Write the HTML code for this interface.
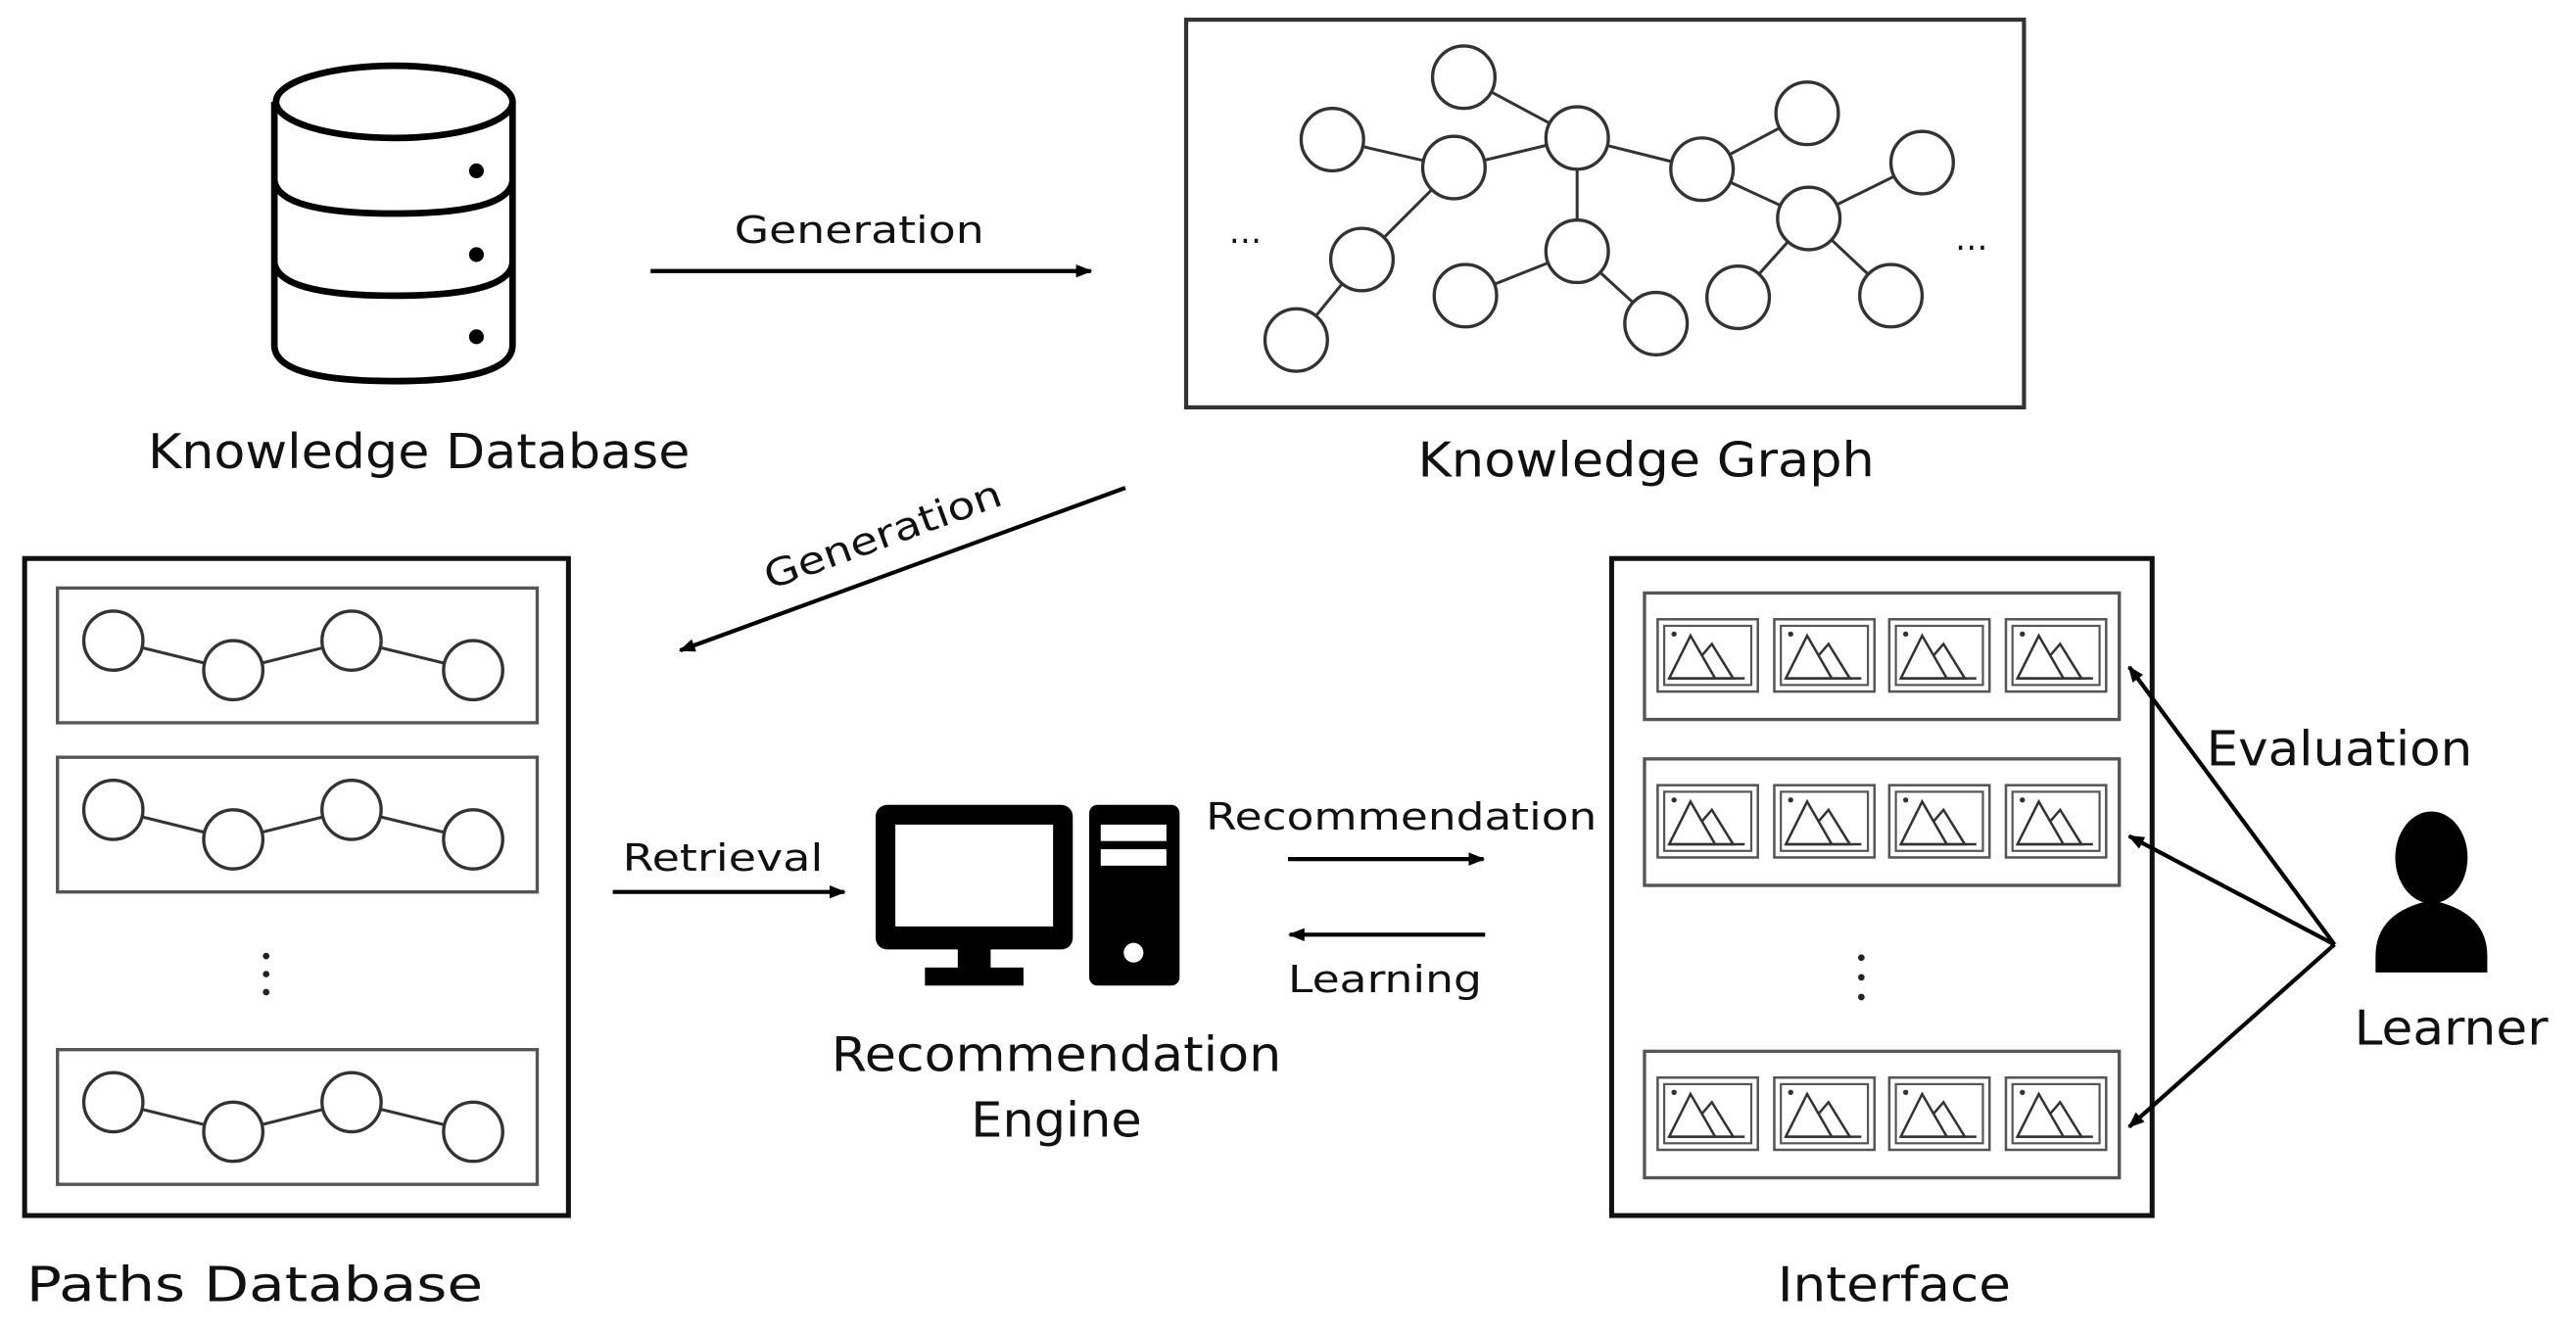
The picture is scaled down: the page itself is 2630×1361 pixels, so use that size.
<!DOCTYPE html>
<html><head><meta charset="utf-8"><style>
html,body{margin:0;padding:0;background:#fff;}
svg{display:block;}
text{font-family:"DejaVu Sans","Liberation Sans",sans-serif;fill:#111;}
</style></head><body>
<svg width="2630" height="1361" viewBox="0 0 1568 811.5" preserveAspectRatio="none" xmlns="http://www.w3.org/2000/svg">
<defs>
<marker id="ah" markerWidth="10" markerHeight="10" refX="9" refY="5" orient="auto" markerUnits="userSpaceOnUse">
<path d="M0,1 L10,5 L0,9 Z" fill="#000"/></marker>
<g id="img">
<rect x="0" y="0" width="61" height="44" fill="#fff" stroke="#555" stroke-width="1.5"/>
<rect x="4" y="4" width="53" height="36" fill="none" stroke="#555" stroke-width="1.3"/>
<circle cx="10" cy="9" r="1.6" fill="#333"/>
<path d="M7,36 L20,10 L35,36 Z M27,22 L33,15 L46,36 L35,36" fill="none" stroke="#333" stroke-width="1.5"/>
<line x1="7" y1="36" x2="53" y2="36" stroke="#333" stroke-width="1.5"/>
</g>
</defs>
<rect width="1568" height="811.5" fill="#fff"/>

<g fill="#fff" stroke="#000" stroke-width="4">
<path d="M167,62 L167,210 Q167,232 240,232 Q312,232 312,210 L312,62"/>
<ellipse cx="240" cy="62" rx="72" ry="22"/>
<path d="M167,110 Q170,130 240,130 Q310,130 312,110" fill="none"/>
<path d="M167,160 Q170,180 240,180 Q310,180 312,160" fill="none"/>
</g>
<circle cx="290" cy="104" r="4.5" fill="#000"/>
<circle cx="290" cy="155" r="4.5" fill="#000"/>
<circle cx="290" cy="205" r="4.5" fill="#000"/>
<text x="255" y="285" font-size="29" text-anchor="middle" textLength="330" lengthAdjust="spacingAndGlyphs">Knowledge Database</text>

<line x1="396" y1="165" x2="664" y2="165" stroke="#000" stroke-width="2.5" marker-end="url(#ah)"/>
<text x="523" y="148" font-size="23" text-anchor="middle" textLength="152" lengthAdjust="spacingAndGlyphs">Generation</text>

<rect x="722" y="12" width="510" height="236" fill="#fff" stroke="#333" stroke-width="2.5"/>
<g stroke="#333" stroke-width="1.8">
<line x1="811" y1="85" x2="885" y2="102"/><line x1="885" y1="102" x2="960" y2="84"/>
<line x1="891" y1="47" x2="960" y2="84"/><line x1="960" y1="84" x2="1036" y2="103"/>
<line x1="1036" y1="103" x2="1100" y2="69"/><line x1="1036" y1="103" x2="1101" y2="133"/>
<line x1="1101" y1="133" x2="1170" y2="99"/><line x1="1101" y1="133" x2="1058" y2="181"/>
<line x1="1101" y1="133" x2="1151" y2="180"/><line x1="960" y1="84" x2="960" y2="153"/>
<line x1="960" y1="153" x2="892" y2="180"/><line x1="960" y1="153" x2="1008" y2="197"/>
<line x1="885" y1="102" x2="829" y2="158"/><line x1="829" y1="158" x2="789" y2="207"/>
</g>
<g fill="#fff" stroke="#333" stroke-width="2">
<circle cx="891" cy="47" r="19"/><circle cx="811" cy="85" r="19"/><circle cx="885" cy="102" r="19"/>
<circle cx="960" cy="84" r="19"/><circle cx="1036" cy="103" r="19"/><circle cx="1100" cy="69" r="19"/>
<circle cx="1170" cy="99" r="19"/><circle cx="1101" cy="133" r="19"/><circle cx="829" cy="158" r="19"/>
<circle cx="960" cy="153" r="19"/><circle cx="892" cy="180" r="19"/><circle cx="1008" cy="197" r="19"/>
<circle cx="1058" cy="181" r="19"/><circle cx="1151" cy="180" r="19"/><circle cx="789" cy="207" r="19"/>
</g>
<text x="758" y="148" font-size="20" text-anchor="middle">…</text>
<text x="1200" y="152" font-size="20" text-anchor="middle">…</text>
<text x="1002" y="290" font-size="29" text-anchor="middle" textLength="278" lengthAdjust="spacingAndGlyphs">Knowledge Graph</text>

<line x1="685" y1="297" x2="414" y2="396" stroke="#000" stroke-width="2.5" marker-end="url(#ah)"/>
<text transform="translate(540,333) rotate(-20)" font-size="23" text-anchor="middle" textLength="152" lengthAdjust="spacingAndGlyphs">Generation</text>

<rect x="15" y="340" width="331" height="400" fill="#fff" stroke="#111" stroke-width="3"/>
<g id="row1">
<rect x="35" y="358" width="292" height="82" fill="#fff" stroke="#555" stroke-width="2"/>
<polyline points="69,390 142,408 214,390 288,408" fill="none" stroke="#333" stroke-width="1.8"/>
<g fill="#fff" stroke="#333" stroke-width="2">
<circle cx="69" cy="390" r="18"/><circle cx="142" cy="408" r="18"/><circle cx="214" cy="390" r="18"/><circle cx="288" cy="408" r="18"/></g>
</g>
<use href="#row1" y="103"/>
<use href="#row1" y="281"/>
<g fill="#222"><circle cx="162" cy="582" r="2"/><circle cx="162" cy="593" r="2"/><circle cx="162" cy="604" r="2"/></g>
<text x="155" y="792" font-size="29" text-anchor="middle" textLength="278" lengthAdjust="spacingAndGlyphs">Paths Database</text>

<line x1="373" y1="543" x2="514" y2="543" stroke="#000" stroke-width="2.5" marker-end="url(#ah)"/>
<text x="440" y="530" font-size="23" text-anchor="middle" textLength="122" lengthAdjust="spacingAndGlyphs">Retrieval</text>

<rect x="533" y="490" width="120" height="88" rx="7" fill="#000"/>
<rect x="545" y="502" width="96" height="62" fill="#fff"/>
<rect x="583" y="576" width="20" height="15" fill="#000"/>
<rect x="563" y="589" width="60" height="11" fill="#000"/>
<rect x="663" y="490" width="55" height="110" rx="5" fill="#000"/>
<rect x="670" y="502" width="40" height="10" fill="#fff"/>
<rect x="670" y="517" width="40" height="10" fill="#fff"/>
<circle cx="690" cy="580" r="6" fill="#fff"/>
<text x="643" y="652" font-size="29" text-anchor="middle" textLength="274" lengthAdjust="spacingAndGlyphs">Recommendation</text>
<text x="643" y="692" font-size="29" text-anchor="middle" textLength="104" lengthAdjust="spacingAndGlyphs">Engine</text>

<line x1="784" y1="523" x2="903" y2="523" stroke="#000" stroke-width="2.5" marker-end="url(#ah)"/>
<text x="853" y="505" font-size="23" text-anchor="middle" textLength="238" lengthAdjust="spacingAndGlyphs">Recommendation</text>
<line x1="904" y1="569" x2="785" y2="569" stroke="#000" stroke-width="2.5" marker-end="url(#ah)"/>
<text x="843" y="604" font-size="23" text-anchor="middle" textLength="118" lengthAdjust="spacingAndGlyphs">Learning</text>

<rect x="981" y="340" width="329" height="400" fill="#fff" stroke="#111" stroke-width="3"/>
<g id="irow">
<rect x="1001" y="361" width="289" height="77" fill="#fff" stroke="#555" stroke-width="2"/>
<use href="#img" x="1009" y="377"/><use href="#img" x="1080" y="377"/>
<use href="#img" x="1150" y="377"/><use href="#img" x="1221" y="377"/>
</g>
<use href="#irow" y="101"/>
<use href="#irow" y="279"/>
<g fill="#222"><circle cx="1133" cy="583" r="2"/><circle cx="1133" cy="595" r="2"/><circle cx="1133" cy="607" r="2"/></g>
<text x="1153" y="792" font-size="29" text-anchor="middle" textLength="142" lengthAdjust="spacingAndGlyphs">Interface</text>

<ellipse cx="1480" cy="522" rx="22" ry="28" fill="#000"/>
<path d="M1446,592 L1446,582 Q1446,555 1480,548 Q1514,555 1514,582 L1514,592 Z" fill="#000"/>
<text x="1492" y="636" font-size="29" text-anchor="middle" textLength="118" lengthAdjust="spacingAndGlyphs">Learner</text>
<text x="1424" y="466" font-size="29" text-anchor="middle" textLength="162" lengthAdjust="spacingAndGlyphs">Evaluation</text>
<g stroke="#000" stroke-width="2.5">
<line x1="1421" y1="575" x2="1296" y2="406" marker-end="url(#ah)"/>
<line x1="1421" y1="575" x2="1296" y2="509" marker-end="url(#ah)"/>
<line x1="1421" y1="575" x2="1296" y2="686" marker-end="url(#ah)"/>
</g>
</svg>
</body></html>
